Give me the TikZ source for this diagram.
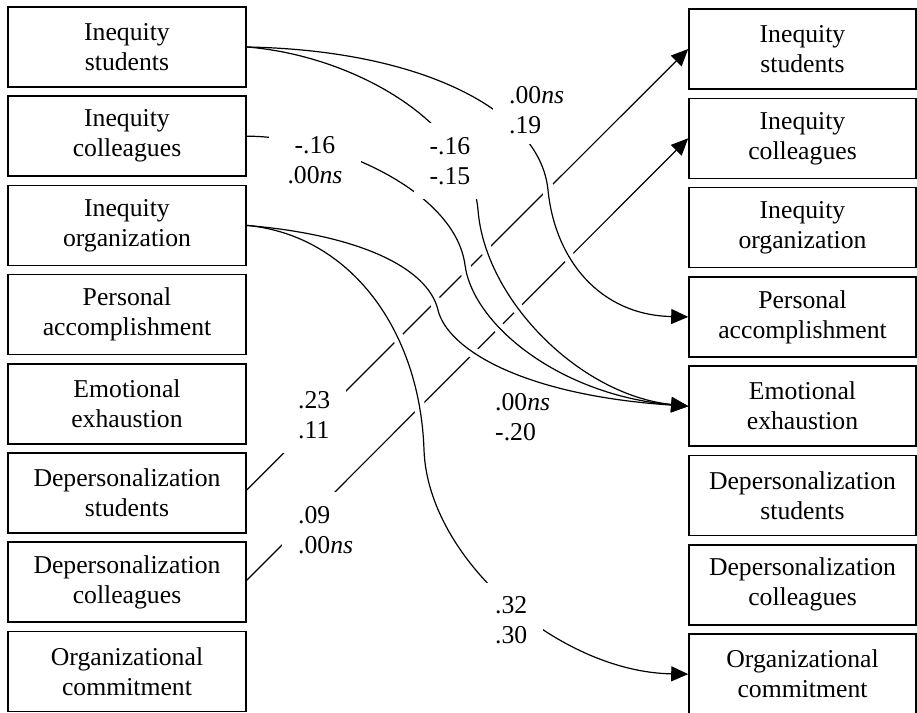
\documentclass[tikz,border=0pt]{standalone}
\usepackage{fontspec}
\setmainfont{Liberation Serif}
\usetikzlibrary{arrows.meta}
\newcommand\curveA{(l1.east) .. controls (420,50) and (540,110) .. (548,190) .. controls (555,260) and (600,315) .. (r4.west)}
\newcommand\curveB{(l1.east) .. controls (350,55) and (470,120) .. (478,210) .. controls (485,300) and (580,395) .. (r5.west)}
\newcommand\curveC{(l2.east) .. controls (330,136) and (455,190) .. (465,265) .. controls (473,325) and (560,395) .. (r5.west)}
\newcommand\curveD{(l3.east) .. controls (360,235) and (428,268) .. (438,310) .. controls (447,348) and (520,395) .. (r5.west)}
\newcommand\curveE{(l3.east) .. controls (350,235) and (420,330) .. (424,450) .. controls (428,560) and (560,672) .. (r8.west)}
\begin{document}
\begin{tikzpicture}[x=1pt,y=-1pt,
  txt/.style={font=\fontsize{25.7}{30}\selectfont},
  box/.style={txt, draw, line width=1.6pt, minimum height=80pt, align=center, inner sep=0pt},
  lbox/.style={box, minimum width=238pt},
  rbox/.style={box, minimum width=227pt},
  conn/.style={line width=1.2pt},
  arr/.style={-{Triangle[length=17pt,width=15pt]}},
  halo/.style={draw=white, line width=11pt, shorten <=10pt, shorten >=22pt},
  lab/.style={txt, fill=white, inner xsep=16pt, inner ysep=14pt}
]
\useasboundingbox (0,0) rectangle (917,712);
% left column
\node[lbox] (l1) at (127,47.0) {Inequity\\students};
\node[lbox] (l2) at (127,136.2) {Inequity\\colleagues};
\node[lbox] (l3) at (127,225.4) {Inequity\\organization};
\node[lbox] (l4) at (127,314.6) {Personal\\accomplishment};
\node[lbox] (l5) at (127,403.8) {Emotional\\exhaustion};
\node[lbox] (l6) at (127,493.0) {Depersonalization\\students};
\node[lbox] (l7) at (127,582.2) {Depersonalization\\colleagues};
\node[lbox] (l8) at (127,671.4) {Organizational\\commitment};
% right column
\node[rbox] (r1) at (802.5,49.0) {Inequity\\students};
\node[rbox] (r2) at (802.5,138.3) {Inequity\\colleagues};
\node[rbox] (r3) at (802.5,227.6) {Inequity\\organization};
\node[rbox] (r4) at (802.5,316.9) {Personal\\accomplishment};
\node[rbox] (r5) at (802.5,406.2) {Emotional\\exhaustion};
\node[rbox] (r6) at (802.5,495.5) {Depersonalization\\students};
\node[rbox] (r7) at (802.5,584.8) {Depersonalization\\colleagues};
\node[rbox] (r8) at (802.5,674.1) {Organizational\\commitment};
% straight connectors
\draw[conn,arr] ([yshift=3pt]l6.east) -- (r1.west);
\draw[conn,arr] ([yshift=2pt]l7.east) -- (r2.west);
% white bridges
\draw[halo] \curveA;
\draw[halo] \curveB;
\draw[halo] \curveC;
\draw[halo] \curveD;
\draw[halo] \curveE;
% curved connectors
\draw[conn,arr] \curveA;
\draw[conn,arr] \curveB;
\draw[conn,arr] \curveC;
\draw[conn,arr] \curveD;
\draw[conn,arr] \curveE;
% labels
\node[lab, align=center, inner xsep=19pt] (t1) at (315,160) {-.16\\.00\textit{ns}};
\node[lab, align=center] (t2) at (450,161) {-.16\\-.15};
\node[lab, align=left, anchor=west, inner ysep=10pt] (t3) at (493,110.5) {.00\textit{ns}\\.19};
\node[lab, align=left, anchor=west] (t4) at (282,415) {.23\\.11};
\node[lab, align=left, anchor=west] (t5) at (282,530) {.09\\.00\textit{ns}};
\node[lab, fill=none, align=left, anchor=west] (t6) at (479,417.5) {.00\textit{ns}\\-.20};
\node[lab, align=left, anchor=west] (t7) at (479,620.5) {.32\\.30};
\end{tikzpicture}
\end{document}
